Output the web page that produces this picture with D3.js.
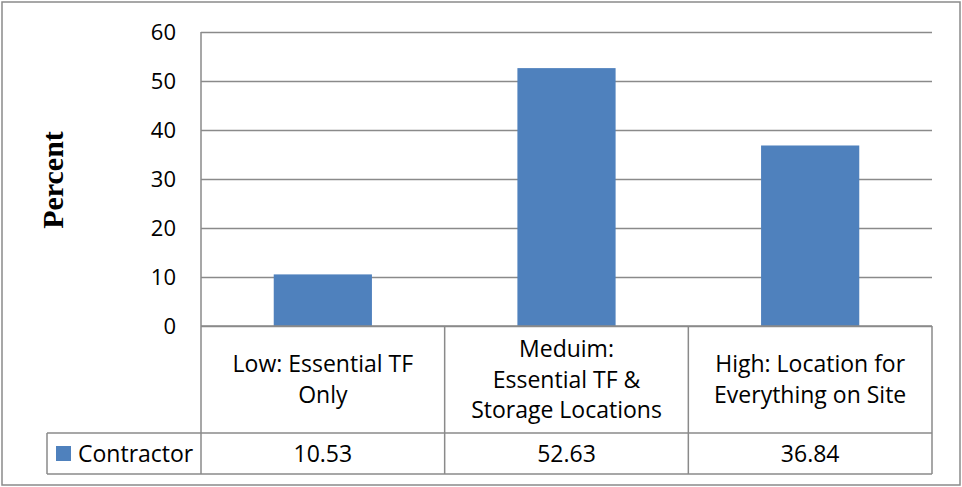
<!DOCTYPE html>
<html>
<head>
<meta charset="utf-8">
<script src="https://cdn.jsdelivr.net/npm/d3@7"></script>
<style>
  html, body { margin: 0; padding: 0; background: #fff; }
  svg { display: block; }
</style>
</head>
<body>
<svg id="chart" width="962" height="487"></svg>
<script>
// Chart data
const categories = [
  ["Low: Essential TF", "Only"],
  ["Meduim:", "Essential TF &", "Storage Locations"],
  ["High: Location for", "Everything on Site"]
];
const seriesName = "Contractor";
const values = [10.53, 52.63, 36.84];
const yTicks = [0, 10, 20, 30, 40, 50, 60];

const svg = d3.select("#chart");
const gridColor = "#8a8a8a";
const barColor = "#4f81bd";
const font = "'Open Sans', 'Liberation Sans', sans-serif";
const textSize = 23;

const plot = { left: 201, right: 932, top: 32, bottom: 326 };
const table = { left: 47, catBottom: 433, valBottom: 474 };

// Outer frame
svg.append("rect")
  .attr("x", 2).attr("y", 2).attr("width", 958).attr("height", 483)
  .attr("fill", "none").attr("stroke", gridColor).attr("stroke-width", 1.5);

const y = d3.scaleLinear().domain([0, 60]).range([plot.bottom, plot.top]);
const x = d3.scaleBand().domain(d3.range(categories.length))
  .range([plot.left, plot.right]).padding(0);

// Horizontal gridlines with tick labels via a left axis
const yAxis = d3.axisLeft(y).tickValues(yTicks)
  .tickSize(-(plot.right - plot.left)).tickPadding(25).tickFormat(d3.format("d"));
const gy = svg.append("g").attr("transform", `translate(${plot.left},0)`).call(yAxis);
gy.select(".domain").remove();
gy.selectAll(".tick line").attr("stroke", gridColor).attr("stroke-width", 1.5);
gy.selectAll(".tick text")
  .attr("fill", "#000").attr("font-family", font).attr("font-size", 22)
  .attr("dy", "0.36em");

// Bars
const barW = x.bandwidth() * 0.403;
svg.append("g").selectAll("rect").data(values).join("rect")
  .attr("x", (d, i) => x(i) + (x.bandwidth() - barW) / 2)
  .attr("y", d => y(d))
  .attr("width", barW)
  .attr("height", d => y(0) - y(d))
  .attr("fill", barColor);

// Data table lines
const lines = svg.append("g").attr("stroke", gridColor).attr("stroke-width", 1.5);
lines.append("line").attr("x1", plot.left).attr("x2", plot.left)
  .attr("y1", plot.top).attr("y2", table.valBottom);
lines.append("line").attr("x1", plot.left).attr("x2", plot.right)
  .attr("y1", y(0)).attr("y2", y(0));
categories.forEach((c, i) => {
  const xr = x(i) + x.bandwidth();
  lines.append("line").attr("x1", xr).attr("x2", xr)
    .attr("y1", y(0)).attr("y2", table.valBottom);
});
[table.catBottom, table.valBottom].forEach(yy => {
  lines.append("line").attr("x1", table.left).attr("x2", plot.right)
    .attr("y1", yy).attr("y2", yy);
});
lines.append("line").attr("x1", table.left).attr("x2", table.left)
  .attr("y1", table.catBottom).attr("y2", table.valBottom);

// Category labels (multi-line, centred in their cells)
const lineH = 30.5;
const catMid = (y(0) + table.catBottom) / 2;
const catText = svg.append("g").attr("font-family", font).attr("font-size", textSize)
  .attr("text-anchor", "middle").attr("fill", "#000");
categories.forEach((lns, i) => {
  const cx = x(i) + x.bandwidth() / 2;
  const t = catText.append("text");
  const firstBase = catMid - (lns.length - 1) * lineH / 2 + 8;
  lns.forEach((s, j) => {
    t.append("tspan").attr("x", cx).attr("y", firstBase + j * lineH).text(s);
  });
});

// Value row
const valMid = (table.catBottom + table.valBottom) / 2;
svg.append("g").attr("font-family", font).attr("font-size", textSize)
  .attr("text-anchor", "middle").attr("fill", "#000")
  .selectAll("text").data(values).join("text")
  .attr("x", (d, i) => x(i) + x.bandwidth() / 2)
  .attr("y", valMid + 8)
  .text(d => d.toFixed(2));

// Legend key in the table
svg.append("rect").attr("x", 56).attr("y", valMid - 7.5)
  .attr("width", 15).attr("height", 15).attr("fill", barColor);
svg.append("text").attr("x", 78).attr("y", valMid + 8)
  .attr("font-family", font).attr("font-size", textSize).attr("fill", "#000")
  .text(seriesName);

// Y axis title
svg.append("text")
  .attr("transform", `translate(63,180) rotate(-90)`)
  .attr("text-anchor", "middle")
  .attr("font-family", "'Liberation Serif', 'DejaVu Serif', serif")
  .attr("font-weight", "bold").attr("font-size", 30)
  .attr("fill", "#000")
  .text("Percent");
</script>
</body>
</html>
